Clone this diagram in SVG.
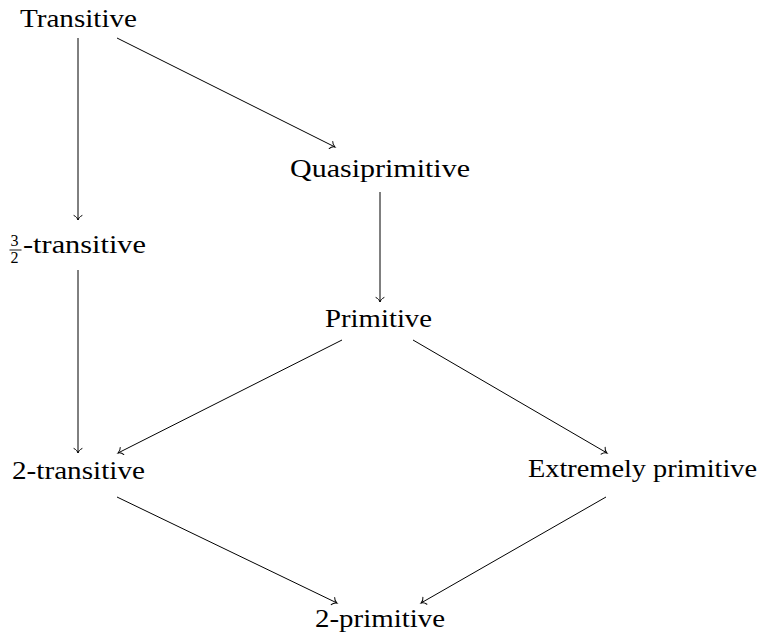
<svg xmlns="http://www.w3.org/2000/svg" width="765" height="637" viewBox="0 0 765 637">
<style>
text{font-family:"Liberation Serif","DejaVu Serif",serif;font-size:26px;fill:#000}
.frac{font-size:16px}
.c line{stroke:#000;stroke-width:1;marker-end:url(#ar)}
</style>
<defs>
<marker id="ar" markerUnits="userSpaceOnUse" viewBox="-6 -5 8 10" markerWidth="8" markerHeight="10" refX="0" refY="0" orient="auto" overflow="visible">
<path d="M-4.5,-4 C-3.5,-1.5 -1,-0.3 0,0 C-1,0.3 -3.5,1.5 -4.5,4" fill="none" stroke="#000" stroke-width="1" stroke-linecap="round"/>
</marker>
</defs>
<rect width="765" height="637" fill="#fff"/>
<g class="c" id="connectors">
<line x1="78" y1="38" x2="78" y2="220"/>
<line x1="117" y1="38" x2="335" y2="147"/>
<line x1="380" y1="192" x2="380" y2="302"/>
<line x1="78" y1="270" x2="78" y2="453"/>
<line x1="342" y1="340" x2="118" y2="453"/>
<line x1="413" y1="340" x2="607" y2="453"/>
<line x1="117" y1="497" x2="337" y2="603"/>
<line x1="606" y1="497" x2="421" y2="603"/>
</g>
<g id="transitive"><text x="20" y="27" textLength="117" lengthAdjust="spacingAndGlyphs">Transitive</text></g>
<g id="quasiprimitive"><text x="290" y="177" textLength="180" lengthAdjust="spacingAndGlyphs">Quasiprimitive</text></g>
<g id="three-halves-transitive">
<text class="frac"><tspan x="10.5" y="246">3</tspan><tspan x="10.5" y="262.5">2</tspan></text>
<line x1="9.5" y1="250" x2="21.5" y2="250" stroke="#000" stroke-width="0.9"/>
<text x="23" y="253" textLength="123" lengthAdjust="spacingAndGlyphs">-transitive</text>
</g>
<g id="primitive"><text x="325" y="327" textLength="107" lengthAdjust="spacingAndGlyphs">Primitive</text></g>
<g id="two-transitive"><text x="12" y="479" textLength="133" lengthAdjust="spacingAndGlyphs">2-transitive</text></g>
<g id="extremely-primitive"><text x="528" y="477" textLength="229" lengthAdjust="spacingAndGlyphs">Extremely primitive</text></g>
<g id="two-primitive"><text x="315" y="627" textLength="130" lengthAdjust="spacingAndGlyphs">2-primitive</text></g>
</svg>
